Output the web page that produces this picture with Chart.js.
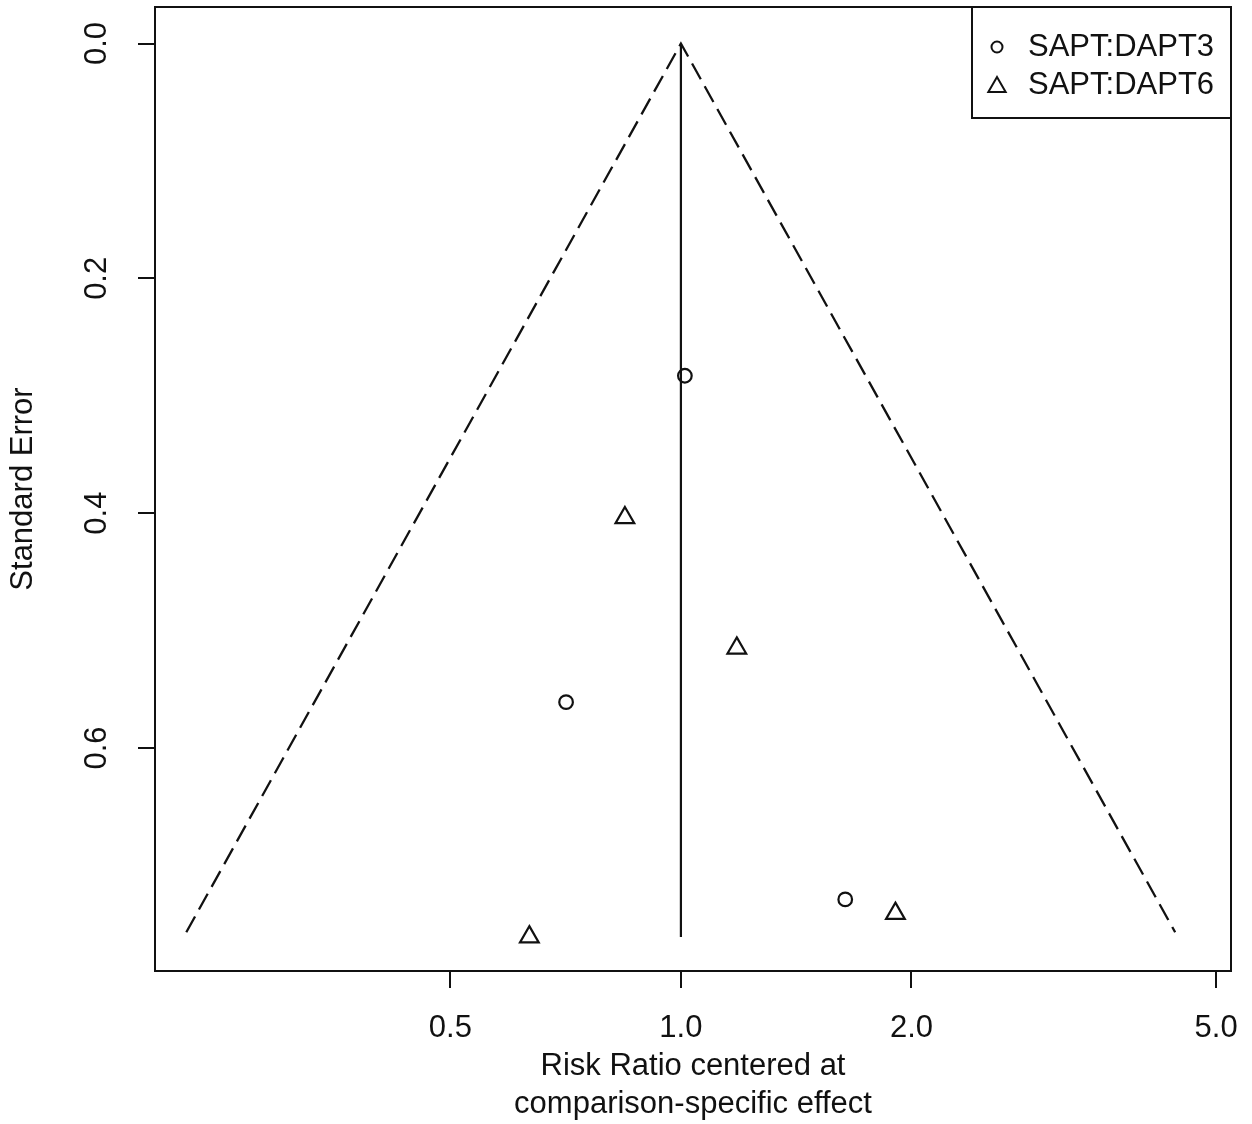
<!DOCTYPE html>
<html>
<head>
<meta charset="utf-8">
<script src="https://cdn.jsdelivr.net/npm/chart.js@4"></script>
<style>
  html, body { margin: 0; padding: 0; background: #fff; }
  #funnel { display: block; }
</style>
</head>
<body>
<canvas id="funnel" width="1252" height="1124"></canvas>
<script>
'use strict';

// ── Data ──
const seriesNames = ['SAPT:DAPT3', 'SAPT:DAPT6'];
const dapt3RR = [1.012, 0.708, 1.639];
const dapt3SE = [0.283, 0.561, 0.729];
const dapt6RR = [0.845, 1.183, 1.906, 0.634];
const dapt6SE = [0.404, 0.515, 0.741, 0.761];

// funnel limits and reference line
const funnelRR = [0.226, 1.0, 4.42];
const funnelSE = [0.757, 0.0, 0.757];
const refRR = [1.0, 1.0];
const refSE = [0.0, 0.761];

const xTicks = [0.5, 1.0, 2.0, 5.0];
const yTicks = [0.0, 0.2, 0.4, 0.6];
const xRange = [0.2057, 5.228];
const yRange = [-0.0311, 0.790];

const FONT = "'Liberation Sans', Arial, Helvetica, sans-serif";
const INK = '#111';

const pts = (xs, ys) => xs.map((x, i) => ({ x: x, y: ys[i] }));

// ── R-style box, rotated y labels, legend ──
const rStyle = {
  id: 'rStyle',
  afterDraw(chart) {
    const { ctx, chartArea: a } = chart;
    const yScale = chart.scales.y;
    ctx.save();
    ctx.strokeStyle = INK;
    ctx.lineWidth = 2;
    ctx.strokeRect(a.left, a.top, a.right - a.left, a.bottom - a.top);

    // y tick labels parallel to axis
    ctx.fillStyle = INK;
    ctx.font = '31px ' + FONT;
    ctx.textAlign = 'center';
    ctx.textBaseline = 'middle';
    yTicks.forEach((v) => {
      const py = yScale.getPixelForValue(v);
      ctx.save();
      ctx.translate(97, py);
      ctx.rotate(-Math.PI / 2);
      ctx.fillText(v.toFixed(1), 0, 0);
      ctx.restore();
    });

    // legend box top-right
    const lx = 972, ly = a.top, lw = a.right - 972, lh = 118 - a.top;
    ctx.fillStyle = '#fff';
    ctx.fillRect(lx, ly, lw, lh);
    ctx.strokeRect(lx, ly, lw, lh);
    ctx.textAlign = 'left';
    const styles = [
      { pointStyle: 'circle', radius: 5.5, rotation: 0, borderWidth: 2 },
      { pointStyle: 'triangle', radius: 10, rotation: 0, borderWidth: 2 },
    ];
    seriesNames.forEach((name, i) => {
      const cy = 47 + i * 38;
      ctx.lineWidth = 2;
      ctx.strokeStyle = INK;
      ctx.fillStyle = '#fff';
      Chart.helpers.drawPoint(ctx, styles[i], 997, cy + (i === 1 ? 2 : 0));
      ctx.fillStyle = INK;
      ctx.fillText(name, 1028, cy);
    });
    ctx.restore();
  },
};

new Chart(document.getElementById('funnel'), {
  type: 'scatter',
  data: {
    datasets: [
      {
        type: 'line',
        label: 'funnel',
        data: pts(funnelRR, funnelSE),
        borderColor: INK,
        borderWidth: 2.3,
        borderDash: [18, 8],
        pointRadius: 0,
        fill: false,
      },
      {
        type: 'line',
        label: 'reference',
        data: pts(refRR, refSE),
        borderColor: INK,
        borderWidth: 2.2,
        pointRadius: 0,
        fill: false,
      },
      {
        label: seriesNames[0],
        data: pts(dapt3RR, dapt3SE),
        pointStyle: 'circle',
        pointRadius: 6.8,
        borderWidth: 2.2,
        borderColor: INK,
        backgroundColor: 'rgba(0,0,0,0)',
      },
      {
        label: seriesNames[1],
        data: pts(dapt6RR, dapt6SE),
        pointStyle: 'triangle',
        pointRadius: 10.8,
        borderWidth: 2.2,
        borderColor: INK,
        backgroundColor: 'rgba(0,0,0,0)',
      },
    ],
  },
  options: {
    responsive: false,
    animation: false,
    layout: { autoPadding: false, padding: { top: 7, right: 21, left: 0, bottom: 0 } },
    plugins: { legend: { display: false }, tooltip: { enabled: false } },
    scales: {
      x: {
        type: 'logarithmic',
        min: xRange[0],
        max: xRange[1],
        border: { display: false },
        grid: { display: true, drawOnChartArea: false, drawTicks: true, tickLength: 17, color: INK, lineWidth: 2 },
        afterBuildTicks: (s) => { s.ticks = xTicks.map((v) => ({ value: v })); },
        afterFit: (s) => { s.height = 153; s.paddingLeft = 0; s.paddingRight = 0; },
        ticks: {
          autoSkip: false,
          maxRotation: 0,
          padding: 22,
          color: INK,
          font: { family: FONT, size: 31 },
          callback: (v) => Number(v).toFixed(1),
        },
        title: {
          display: true,
          text: ['Risk Ratio centered at', 'comparison-specific effect'],
          color: INK,
          font: { family: FONT, size: 31, lineHeight: 38 / 31 },
          padding: { top: 0, bottom: 1 },
        },
      },
      y: {
        type: 'linear',
        reverse: true,
        min: yRange[0],
        max: yRange[1],
        border: { display: false },
        grid: { display: true, drawOnChartArea: false, drawTicks: true, tickLength: 17, color: INK, lineWidth: 2 },
        afterBuildTicks: (s) => { s.ticks = yTicks.map((v) => ({ value: v })); },
        afterFit: (s) => { s.width = 155; s.paddingTop = 0; s.paddingBottom = 0; },
        ticks: { display: false },
        title: {
          display: true,
          text: 'Standard Error',
          color: INK,
          font: { family: FONT, size: 31, lineHeight: 1.2 },
          padding: { top: 5, bottom: 0 },
        },
      },
    },
  },
  plugins: [rStyle],
});
</script>
</body>
</html>
